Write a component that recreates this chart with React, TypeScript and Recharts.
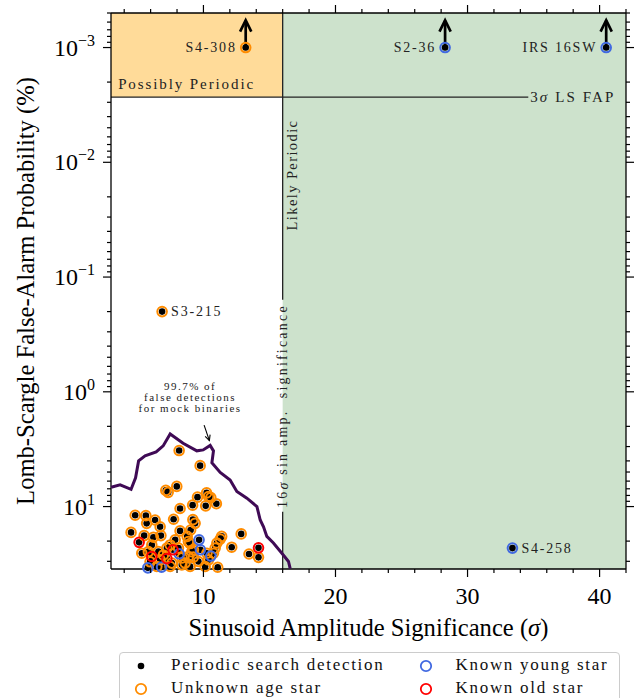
import React from 'react';
import {
  ComposedChart,
  Scatter,
  XAxis,
  YAxis,
  ReferenceArea,
  ReferenceLine,
  Label,
} from 'recharts';

const FONT = '"Liberation Serif", "DejaVu Serif", serif';

// ---------- axes ----------
const xDomain = [3, 42];
const xTicks = [4, 6, 8, 10, 12, 14, 16, 18, 20, 22, 24, 26, 28, 30, 32, 34, 36, 38, 40, 42];
const xMajorTicks = [10, 20, 30, 40];

const yDomain = [0.0005, 35];
const yMajorTicks = [0.001, 0.01, 0.1, 1, 10];
const yExponents = ['\u22123', '\u22122', '\u22121', '0', '1'];
const yMinorTicks = [
  0.0005, 0.0006, 0.0007, 0.0008, 0.0009,
  0.002, 0.003, 0.004, 0.005, 0.006, 0.007, 0.008, 0.009,
  0.02, 0.03, 0.04, 0.05, 0.06, 0.07, 0.08, 0.09,
  0.2, 0.3, 0.4, 0.5, 0.6, 0.7, 0.8, 0.9,
  2, 3, 4, 5, 6, 7, 8, 9,
  20, 30,
];
const yTicks = [...yMajorTicks, ...yMinorTicks].sort((a, b) => a - b);

// ---------- thresholds ----------
const threeSigmaFap = 0.0027;
const sinAmpThreshold = 16;
const fapLineEnd = 34.6;
const sinAmpGap = [0.158, 11.1];

// ---------- data ----------
const unknownAgeStars = [
  { x: 8.16, y: 3.25 }, { x: 9.75, y: 4.4 }, { x: 7.15, y: 7.23 }, { x: 7.33, y: 7.52 },
  { x: 7.98, y: 6.67 }, { x: 8.23, y: 10.4 }, { x: 4.83, y: 11.9 }, { x: 5.64, y: 12.0 },
  { x: 5.7, y: 14.0 }, { x: 6.34, y: 13.1 }, { x: 6.72, y: 15.0 }, { x: 7.74, y: 12.9 },
  { x: 9.18, y: 9.72 }, { x: 9.55, y: 8.28 }, { x: 10.17, y: 9.86 }, { x: 10.24, y: 7.6 },
  { x: 10.39, y: 8.18 }, { x: 10.56, y: 8.35 }, { x: 10.98, y: 9.44 }, { x: 9.2, y: 13.0 },
  { x: 9.37, y: 14.0 }, { x: 4.52, y: 16.8 }, { x: 5.51, y: 17.9 }, { x: 6.21, y: 18.5 },
  { x: 6.78, y: 17.9 }, { x: 8.23, y: 16.3 }, { x: 8.77, y: 18.2 }, { x: 9.03, y: 16.0 },
  { x: 11.38, y: 18.2 }, { x: 11.27, y: 19.2 }, { x: 12.86, y: 17.3 }, { x: 12.14, y: 22.6 },
  { x: 13.45, y: 25.9 }, { x: 14.17, y: 27.7 }, { x: 11.08, y: 33.8 }, { x: 6.09, y: 21.6 },
  { x: 5.33, y: 25.5 }, { x: 5.83, y: 24.7 }, { x: 8.11, y: 23.0 }, { x: 8.86, y: 20.2 },
  { x: 9.12, y: 24.7 }, { x: 6.97, y: 26.4 }, { x: 6.47, y: 33.3 }, { x: 7.48, y: 33.3 },
  { x: 8.61, y: 31.1 }, { x: 8.99, y: 33.3 }, { x: 11.02, y: 20.8 }, { x: 10.89, y: 23.0 },
  { x: 10.76, y: 25.5 }, { x: 10.13, y: 33.3 }, { x: 9.62, y: 30.1 }, { x: 9.24, y: 27.6 },
  { x: 10.38, y: 29.1 }, { x: 9.24, y: 23.8 }, { x: 8.99, y: 21.0 }, { x: 7.48, y: 21.6 },
  { x: 7.86, y: 19.5 }, { x: 8.39, y: 28.0 }, { x: 6.72, y: 29.1 }, { x: 5.96, y: 30.3 },
  { x: 6.59, y: 24.7 }, { x: 7.23, y: 23.0 }, { x: 8.86, y: 27.2 }, { x: 7.61, y: 31.1 },
  { x: 8.36, y: 32.2 }, { x: 10.26, y: 25.5 },
  { x: 6.87, y: 0.2 }, { x: 13.2, y: 0.001 },
];

const knownYoungStars = [
  { x: 9.67, y: 19.5 }, { x: 9.77, y: 23.8 }, { x: 10.56, y: 27.0 }, { x: 8.16, y: 25.8 },
  { x: 5.79, y: 34.2 }, { x: 6.83, y: 33.7 },
  { x: 28.3, y: 0.001 }, { x: 40.5, y: 0.001 }, { x: 33.4, y: 23.0 },
];

const knownOldStars = [
  { x: 5.13, y: 20.5 }, { x: 6.09, y: 27.2 }, { x: 7.23, y: 28.4 }, { x: 7.7, y: 23.8 },
  { x: 14.17, y: 22.9 },
];

const allDetections = [...unknownAgeStars, ...knownYoungStars, ...knownOldStars];

const upperLimitStars = [
  { x: 13.2, y: 0.001 }, { x: 28.3, y: 0.001 }, { x: 40.5, y: 0.001 },
];

const namedStars = [
  { x: 13.2, y: 0.001, name: 'S4-308', side: 'left' },
  { x: 28.3, y: 0.001, name: 'S2-36', side: 'left' },
  { x: 40.5, y: 0.001, name: 'IRS 16SW', side: 'left' },
  { x: 6.87, y: 0.2, name: 'S3-215', side: 'right' },
  { x: 33.4, y: 23.0, name: 'S4-258', side: 'right' },
];

const mockBinaryContour = [
  { x: 3.01, y: 6.78 }, { x: 3.69, y: 6.47 }, { x: 4.52, y: 7.08 }, { x: 4.86, y: 5.62 },
  { x: 5.09, y: 4.0 }, { x: 5.58, y: 3.62 }, { x: 6.42, y: 3.34 }, { x: 6.95, y: 2.96 },
  { x: 7.48, y: 2.33 }, { x: 8.46, y: 2.81 }, { x: 9.5, y: 3.27 }, { x: 9.98, y: 3.21 },
  { x: 10.51, y: 2.93 }, { x: 10.76, y: 3.27 }, { x: 10.64, y: 4.16 }, { x: 11.27, y: 5.04 },
  { x: 12.02, y: 5.86 }, { x: 12.53, y: 7.4 }, { x: 13.29, y: 8.45 }, { x: 14.05, y: 10.0 },
  { x: 14.3, y: 13.1 }, { x: 14.55, y: 15.0 }, { x: 14.8, y: 18.2 }, { x: 15.3, y: 20.8 },
  { x: 15.94, y: 25.5 }, { x: 16.44, y: 30.1 }, { x: 16.57, y: 34.8 },
];

const mockArrow = [{ x: 10.05, y: 1.95 }, { x: 10.45, y: 2.66 }];

const notes = [
  { id: 'possibly', x: 3.54, y: 0.00232, text: 'Possibly Periodic' },
  { id: 'fap', x: 34.75, y: 0.0027, text: '3\u03c3 LS FAP' },
  { id: 'likely', x: 16.69, y: 0.0129, text: 'Likely Periodic' },
  { id: 'sinamp', x: 16, y: 1.33, text: '16\u03c3 sin amp.  significance' },
  { id: 'mock', x: 8.99, y: 0.963, text: '99.7% of|false detections|for mock binaries' },
];

const legendItems = [
  { label: 'Periodic search detection', kind: 'dot', color: '#000' },
  { label: 'Unknown age star', kind: 'ring', color: '#ff8c00' },
  { label: 'Known young star', kind: 'ring', color: '#4169e1' },
  { label: 'Known old star', kind: 'ring', color: '#ff0000' },
];

// ---------- rendering helpers ----------
const withSigma = (s: string) =>
  s.split('\u03c3').flatMap((part, i) =>
    i === 0 ? [part] : [<tspan key={i} fontStyle="italic">{'\u03c3'}</tspan>, part]
  );

const TICK = '#000';

const BottomTick = (p: any) => {
  const { x, y, payload } = p;
  const major = xMajorTicks.includes(payload.value);
  return (
    <g>
      <line x1={x} y1={y} x2={x} y2={y + (major ? 8 : 4)} stroke={TICK} strokeWidth={1.2} />
      {major && (
        <text x={x} y={y + 35} textAnchor="middle" fontFamily={FONT} fontSize={24} fill="#000">
          {payload.value}
        </text>
      )}
    </g>
  );
};

const TopTick = (p: any) => {
  const { x, y, payload } = p;
  const major = xMajorTicks.includes(payload.value);
  return <line x1={x} y1={y} x2={x} y2={y - (major ? 8 : 4)} stroke={TICK} strokeWidth={1.2} />;
};

const LeftTick = (p: any) => {
  const { x, y, payload } = p;
  const i = yMajorTicks.indexOf(payload.value);
  const major = i >= 0;
  return (
    <g>
      <line x1={x} y1={y} x2={x - (major ? 8 : 4)} y2={y} stroke={TICK} strokeWidth={1.2} />
      {major && (
        <text x={x - 16} y={y + 8} textAnchor="end" fontFamily={FONT} fontSize={24} fill="#000">
          10
          <tspan dy={-10} fontSize={16}>{yExponents[i]}</tspan>
        </text>
      )}
    </g>
  );
};

const RightTick = (p: any) => {
  const { x, y, payload } = p;
  const major = yMajorTicks.includes(payload.value);
  return <line x1={x} y1={y} x2={x + (major ? 8 : 4)} y2={y} stroke={TICK} strokeWidth={1.2} />;
};

const BlackDot = (p: any) => <circle cx={p.cx} cy={p.cy} r={3.3} fill="#000" />;
const ring = (color: string) => (p: any) => (
  <circle cx={p.cx} cy={p.cy} r={4.8} fill="none" stroke={color} strokeWidth={2} />
);

const UpArrow = (p: any) => {
  const { cx, cy } = p;
  return (
    <g stroke="#000" strokeWidth={2.7} fill="none" strokeLinecap="butt">
      <line x1={cx} y1={cy} x2={cx} y2={cy - 27} />
      <path d={`M${cx - 5.6},${cy - 16} L${cx},${cy - 27.3} L${cx + 5.6},${cy - 16}`} strokeLinejoin="miter" />
    </g>
  );
};

const NameLabel = (p: any) => {
  const { cx, cy, payload } = p;
  const left = payload.side === 'left';
  return (
    <text
      x={left ? cx - 9 : cx + 9}
      y={cy + 4.6}
      textAnchor={left ? 'end' : 'start'}
      fontFamily={FONT}
      fontSize={14}
      letterSpacing={1.8}
      fill="#222"
    >
      {payload.name}
    </text>
  );
};

const NoteShape = (p: any) => {
  const { cx, cy, payload } = p;
  const common = { fontFamily: FONT, fill: '#222', style: { whiteSpace: 'pre' as const } };
  switch (payload.id) {
    case 'possibly':
      return (
        <text x={cx} y={cy} fontSize={15} letterSpacing={1.9} {...common}>
          {payload.text}
        </text>
      );
    case 'fap':
      return (
        <text x={cx} y={cy + 4.6} fontSize={15} letterSpacing={2.1} {...common}>
          {withSigma(payload.text)}
        </text>
      );
    case 'likely':
      return (
        <text
          x={cx}
          y={cy}
          fontSize={14.5}
          letterSpacing={1.4}
          textAnchor="middle"
          dominantBaseline="central"
          transform={`rotate(-90 ${cx} ${cy})`}
          {...common}
        >
          {payload.text}
        </text>
      );
    case 'sinamp':
      return (
        <text
          x={cx}
          y={cy}
          fontSize={14}
          letterSpacing={2.2}
          textAnchor="middle"
          dominantBaseline="central"
          transform={`rotate(-90 ${cx} ${cy})`}
          {...common}
        >
          {withSigma(payload.text)}
        </text>
      );
    case 'mock': {
      const lines = String(payload.text).split('|');
      return (
        <text x={cx} y={cy} fontSize={11} letterSpacing={1.5} textAnchor="middle" {...common}>
          {lines.map((l: string, i: number) => (
            <tspan key={i} x={cx} dy={i === 0 ? 0 : 10.8}>
              {l}
            </tspan>
          ))}
        </text>
      );
    }
    default:
      return <g />;
  }
};

const ArrowLine = (p: any) => {
  const { x1, y1, x2, y2 } = p;
  const ang = Math.atan2(y2 - y1, x2 - x1);
  const hl = 6;
  const hw = 0.45;
  const ax = x2 - hl * Math.cos(ang - hw);
  const ay = y2 - hl * Math.sin(ang - hw);
  const bx = x2 - hl * Math.cos(ang + hw);
  const by = y2 - hl * Math.sin(ang + hw);
  return (
    <g stroke="#000" strokeWidth={1.1} fill="none">
      <line x1={x1} y1={y1} x2={x2} y2={y2} />
      <path d={`M${ax},${ay} L${x2},${y2} L${bx},${by}`} />
    </g>
  );
};

const XTitle = (p: any) => {
  const vb = p.viewBox || {};
  return (
    <text x={vb.x + vb.width / 2} y={vb.y + 67} textAnchor="middle" fontFamily={FONT} fontSize={24.6} fill="#000">
      Sinusoid Amplitude Significance (<tspan fontStyle="italic">{'\u03c3'}</tspan>)
    </text>
  );
};

const YTitle = (p: any) => {
  const vb = p.viewBox || {};
  const cx = 33.5;
  const cy = vb.y + vb.height / 2;
  return (
    <text
      x={cx}
      y={cy}
      textAnchor="middle"
      fontFamily={FONT}
      fontSize={24.6}
      fill="#000"
      transform={`rotate(-90 ${cx} ${cy})`}
    >
      Lomb-Scargle False-Alarm Probability (%)
    </text>
  );
};

const LegendMarker = ({ kind, color }: { kind: string; color: string }) => (
  <svg width={16} height={16} style={{ position: 'absolute', left: -8, top: -8 }}>
    {kind === 'dot' ? (
      <circle cx={8} cy={8} r={3.3} fill={color} />
    ) : (
      <circle cx={8} cy={8} r={5.2} fill="none" stroke={color} strokeWidth={1.8} />
    )}
  </svg>
);

export default function App() {
  const ax = { xAxisId: 'b', yAxisId: 'l' };
  return (
    <div style={{ position: 'absolute', left: 0, top: 0, width: 641, height: 698, background: '#fff', overflow: 'hidden' }}>
      <ComposedChart width={641} height={698} margin={{ top: 0, right: 0, bottom: 0, left: 0 }}>
        <XAxis
          xAxisId="b"
          type="number"
          dataKey="x"
          domain={xDomain}
          ticks={xTicks}
          interval={0}
          tickSize={0}
          tickMargin={0}
          tick={<BottomTick />}
          height={129}
          axisLine={{ stroke: '#000', strokeWidth: 1.3 }}
        >
          <Label content={<XTitle />} />
        </XAxis>
        <XAxis
          xAxisId="t"
          orientation="top"
          type="number"
          dataKey="x"
          domain={xDomain}
          allowDataOverflow
          ticks={xTicks}
          interval={0}
          tickSize={0}
          tickMargin={0}
          tick={<TopTick />}
          height={13}
          axisLine={{ stroke: '#000', strokeWidth: 1.3 }}
        />
        <YAxis
          yAxisId="l"
          type="number"
          dataKey="y"
          scale="log"
          domain={yDomain}
          reversed
          ticks={yTicks}
          interval={0}
          tickSize={0}
          tickMargin={0}
          tick={<LeftTick />}
          width={111}
          axisLine={{ stroke: '#000', strokeWidth: 1.3 }}
        >
          <Label content={<YTitle />} />
        </YAxis>
        <YAxis
          yAxisId="r"
          orientation="right"
          type="number"
          dataKey="y"
          scale="log"
          domain={yDomain}
          allowDataOverflow
          reversed
          ticks={yTicks}
          interval={0}
          tickSize={0}
          tickMargin={0}
          tick={<RightTick />}
          width={15}
          axisLine={{ stroke: '#000', strokeWidth: 1.3 }}
        />

        <ReferenceArea {...ax} x1={xDomain[0]} x2={sinAmpThreshold} y1={yDomain[0]} y2={threeSigmaFap} fill="#ffdb99" fillOpacity={1} stroke="none" />
        <ReferenceArea {...ax} x1={sinAmpThreshold} x2={xDomain[1]} y1={yDomain[0]} y2={yDomain[1]} fill="#cde2cc" fillOpacity={1} stroke="none" />
        <ReferenceLine {...ax} segment={[{ x: xDomain[0], y: threeSigmaFap }, { x: fapLineEnd, y: threeSigmaFap }]} stroke="#222" strokeWidth={1.3} />
        <ReferenceLine {...ax} segment={[{ x: sinAmpThreshold, y: yDomain[0] }, { x: sinAmpThreshold, y: sinAmpGap[0] }]} stroke="#222" strokeWidth={1.3} />
        <ReferenceLine {...ax} segment={[{ x: sinAmpThreshold, y: sinAmpGap[1] }, { x: sinAmpThreshold, y: yDomain[1] }]} stroke="#222" strokeWidth={1.3} />
        <ReferenceLine {...ax} segment={mockArrow} shape={<ArrowLine />} />

        <Scatter {...ax} data={notes} shape={<NoteShape />} isAnimationActive={false} />
        <Scatter
          {...ax}
          data={mockBinaryContour}
          line={{ stroke: '#3f0a55', strokeWidth: 3 }}
          lineType="joint"
          shape={() => <g />}
          isAnimationActive={false}
        />
        <Scatter {...ax} data={upperLimitStars} shape={<UpArrow />} isAnimationActive={false} />
        <Scatter {...ax} data={allDetections} shape={<BlackDot />} isAnimationActive={false} />
        <Scatter {...ax} data={unknownAgeStars} shape={ring('#ff8c00')} isAnimationActive={false} />
        <Scatter {...ax} data={knownYoungStars} shape={ring('#4169e1')} isAnimationActive={false} />
        <Scatter {...ax} data={knownOldStars} shape={ring('#ff0000')} isAnimationActive={false} />
        <Scatter {...ax} data={namedStars} shape={<NameLabel />} isAnimationActive={false} />
      </ComposedChart>

      <div
        style={{
          position: 'absolute',
          left: 119,
          top: 652,
          width: 501,
          height: 60,
          border: '1.5px solid #cccccc',
          borderRadius: 4,
          background: '#fff',
          boxSizing: 'border-box',
          fontFamily: FONT,
          fontSize: 17,
          letterSpacing: 1.7,
          color: '#111',
        }}
      >
        {legendItems.map((it, i) => {
          const col = Math.floor(i / 2);
          const row = i % 2;
          const mx = col === 0 ? 21 : 305.5;
          const my = row === 0 ? 12.5 : 35.5;
          return (
            <div key={it.label}>
              <div style={{ position: 'absolute', left: mx, top: my }}>
                <LegendMarker kind={it.kind} color={it.color} />
              </div>
              <div style={{ position: 'absolute', left: mx + 30, top: my - 12, whiteSpace: 'nowrap', lineHeight: '22px' }}>
                {it.label}
              </div>
            </div>
          );
        })}
      </div>
    </div>
  );
}
